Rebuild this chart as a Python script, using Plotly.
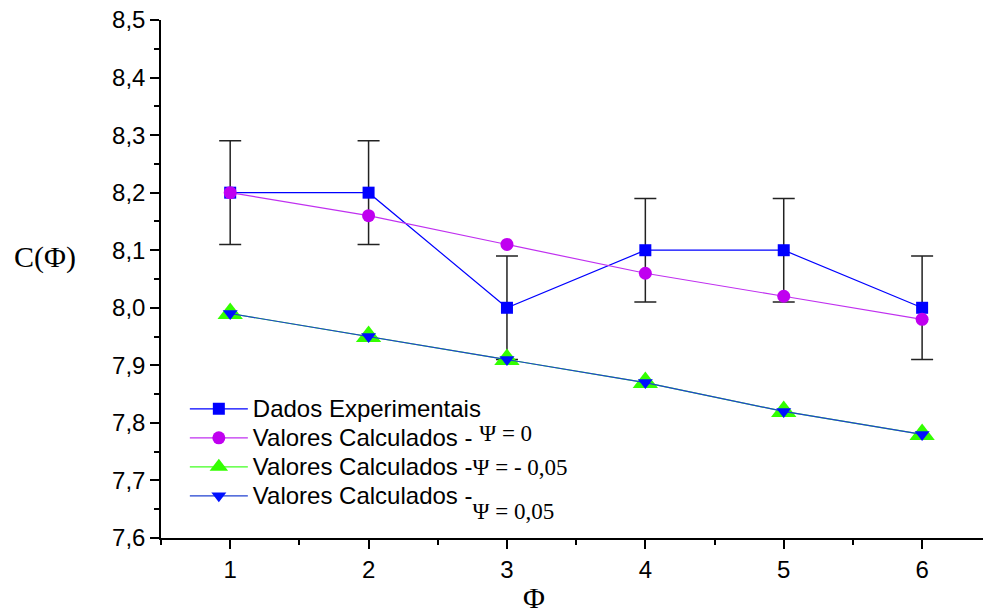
import plotly.graph_objects as go

phi = [1, 2, 3, 4, 5, 6]
exp_vals = [8.2, 8.2, 8.0, 8.1, 8.1, 8.0]
exp_err = [0.09, 0.09, 0.09, 0.09, 0.09, 0.09]
calc_psi0 = [8.2, 8.16, 8.11, 8.06, 8.02, 7.98]
calc_psi_m005 = [7.99, 7.95, 7.91, 7.87, 7.82, 7.78]
calc_psi_p005 = [7.99, 7.95, 7.91, 7.87, 7.82, 7.78]

serif = "Liberation Serif, Times New Roman, serif"
sans = "Arial, Liberation Sans, sans-serif"

def psi(txt, shift=0):
    return (f"<span style=\"font-family:{serif};font-size:23px;"
            f"baseline-shift:{shift}px\">{txt}</span>")

def big(txt):
    return f"<span style=\"font-size:24px\">{txt}</span>"

fig = go.Figure()
fig.add_trace(go.Scatter(
    x=phi, y=exp_vals, mode="lines+markers", name=big("Dados Experimentais"),
    line=dict(color="#0000ff", width=1.2),
    marker=dict(symbol="square", size=12, color="#0000ff"),
    error_y=dict(type="data", array=exp_err, visible=True, color="#222222", thickness=1.5, width=11),
))
fig.add_trace(go.Scatter(
    x=phi, y=calc_psi0, mode="lines+markers",
    name=big("Valores Calculados - ") + psi("Ψ = 0", 5),
    line=dict(color="#c030f0", width=1.2),
    marker=dict(symbol="circle", size=13, color="#c000f0"),
))
fig.add_trace(go.Scatter(
    x=phi, y=calc_psi_m005, mode="lines+markers",
    name=big("Valores Calculados -") + psi("Ψ = - 0,05"),
    line=dict(color="#40ff20", width=1.2),
    marker=dict(symbol="triangle-up", size=22, color="#33ff00"),
))
fig.add_trace(go.Scatter(
    x=phi, y=calc_psi_p005, mode="lines+markers",
    name=big("Valores Calculados -") + psi("Ψ = 0,05", -15),
    line=dict(color="#2040d0", width=1.2),
    marker=dict(symbol="triangle-down", size=13, color="#0010ff"),
))
# invisible spacer entry so the lowered legend text is not clipped
fig.add_trace(go.Scatter(
    x=[None], y=[None], mode="lines", name=" ",
    line=dict(color="rgba(0,0,0,0)", width=0), hoverinfo="skip",
))

axis_common = dict(
    showline=True, linecolor="black", linewidth=1.5,
    ticks="outside", ticklen=9, tickwidth=1.5, tickcolor="black",
    showgrid=False, zeroline=False,
    tickfont=dict(family=sans, size=24, color="black"),
)
fig.update_xaxes(range=[0.5, 6.44], dtick=1, tick0=1,
                 minor=dict(dtick=0.5, tick0=0.5, ticks="outside", ticklen=5, tickwidth=1.5, tickcolor="black"),
                 **axis_common)
fig.update_yaxes(range=[7.6, 8.5], dtick=0.1, tick0=7.6, tickformat=".1f",
                 minor=dict(dtick=0.05, tick0=7.6, ticks="outside", ticklen=5, tickwidth=1.5, tickcolor="black"),
                 **axis_common)

fig.add_annotation(text="C(Φ)", xref="paper", yref="paper", x=-0.101, y=0.542,
                   xanchor="right", yanchor="middle", showarrow=False,
                   font=dict(family=serif, size=30, color="black"))
fig.add_annotation(text="Φ", xref="paper", yref="paper", x=(534 - 161) / 822, y=-0.08,
                   xanchor="center", yanchor="top", showarrow=False,
                   font=dict(family=serif, size=30, color="black"))

fig.update_layout(
    width=983, height=608,
    margin=dict(l=161, r=0, t=20, b=70),
    plot_bgcolor="white", paper_bgcolor="white",
    separators=", ",
    showlegend=True,
    legend=dict(x=0.029, y=0.287, xanchor="left", yanchor="top",
                bgcolor="rgba(0,0,0,0)", font=dict(family=sans, size=20, color="black"),
                itemwidth=58, tracegroupgap=0),
)

fig.write_html("out.html", config={"displayModeBar": False},
               post_script="document.body.style.margin='0';")
